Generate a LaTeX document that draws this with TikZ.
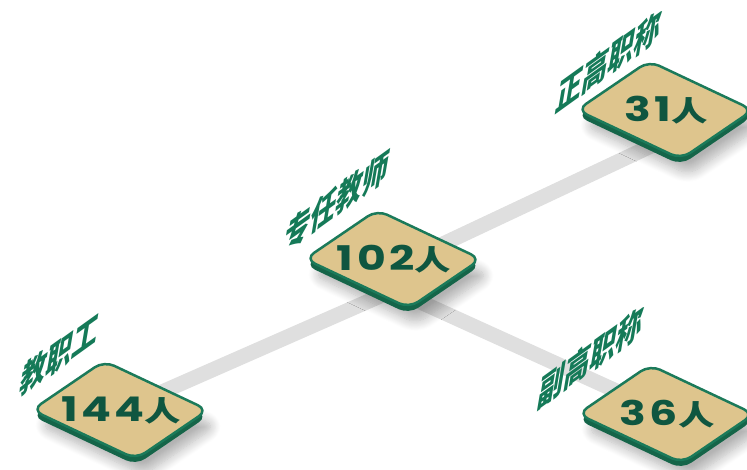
\documentclass[tikz,border=0pt]{standalone}
\usepackage{fontspec}
\usetikzlibrary{calc,shadows.blur}
\newfontfamily\cjkfont{Noto Sans CJK SC}
\newfontfamily\tagfont[FakeSlant=0.25]{Noto Sans CJK SC}
\newfontfamily\numfont[LetterSpace=8]{Poppins}
\definecolor{tilefill}{HTML}{DEC58D}
\definecolor{tilegreen}{HTML}{1B7A5A}
\definecolor{tiledark}{HTML}{156549}
\definecolor{numgreen}{HTML}{0F5640}
\definecolor{taggreen}{HTML}{157A58}
\definecolor{linkgray}{HTML}{DFDFDF}
\newcommand{\headcount}[1]{{\numfont\bfseries #1}{\cjkfont\bfseries\fontsize{28}{28}\selectfont 人}}
\tikzset{
  count/.style={text=numgreen,inner sep=0pt,xscale=1.3,font=\fontsize{34}{34}\selectfont},
  tag/.style={text=taggreen,inner sep=0pt,yslant=0.72,yscale=1.3,font=\tagfont\bfseries\fontsize{26}{26}\selectfont},
  tile/.style={fill=tilefill,draw=tilegreen,line width=2.5pt,rounded corners=11pt},
  tilebase/.style={fill=tiledark,rounded corners=11pt,
    blur shadow={shadow xshift=8pt,shadow yshift=-10pt,shadow blur steps=12,shadow opacity=30,shadow blur radius=10pt}},
  link/.style={line width=15pt,draw=linkgray},
}
\pgfdeclarelayer{band}
\pgfdeclarelayer{back}
\pgfsetlayers{band,back,main}

\begin{document}
\begin{tikzpicture}[x=1pt,y=1pt]
    \useasboundingbox (0,0) rectangle (747,-469);
    % counts
    \node[count] (staff) at (121,-410) {\headcount{144}};
    \node[count] (teach) at (394,-259) {\headcount{102}};
    \node[count] (senior) at (666,-110) {\headcount{31}};
    \node[count] (assoc) at (667,-414) {\headcount{36}};
    % titles
    \node[tag] (stafftag) at (58,-356) {教职工};
    \node[tag] (teachtag) at (334,-203) {专任教师};
    \node[tag] (seniortag) at (606,-63) {正高职称};
    \node[tag] (assoctag) at (588,-359) {副高职称};
    % tiles
    \begin{pgfonlayer}{back}
    \foreach \n in {staff,teach,senior,assoc}{
      \fill[tilebase] ($(\n)+(-89,-6)$) -- ($(\n)+(-17,43)$) -- ($(\n)+(87,-6)$) -- ($(\n)+(15,-55)$) -- cycle;
      \draw[tile] ($(\n)+(-89,0)$) -- ($(\n)+(-17,49)$) -- ($(\n)+(87,0)$) -- ($(\n)+(15,-49)$) -- cycle;
    }
    \end{pgfonlayer}
    % links
    \begin{pgfonlayer}{band}
    \coordinate (hub) at ($(teach)+(0,-31)$);
    \coordinate (teachlow) at ($(teach)+(0,-8)$);
    \coordinate (seniorlow) at ($(senior)+(0,-29)$);
    \draw[link] (staff) -- (hub);
    \draw[link] (hub) -- (assoc);
    \draw[link] (teachlow) -- (seniorlow);
    \end{pgfonlayer}
\end{tikzpicture}
\end{document}
